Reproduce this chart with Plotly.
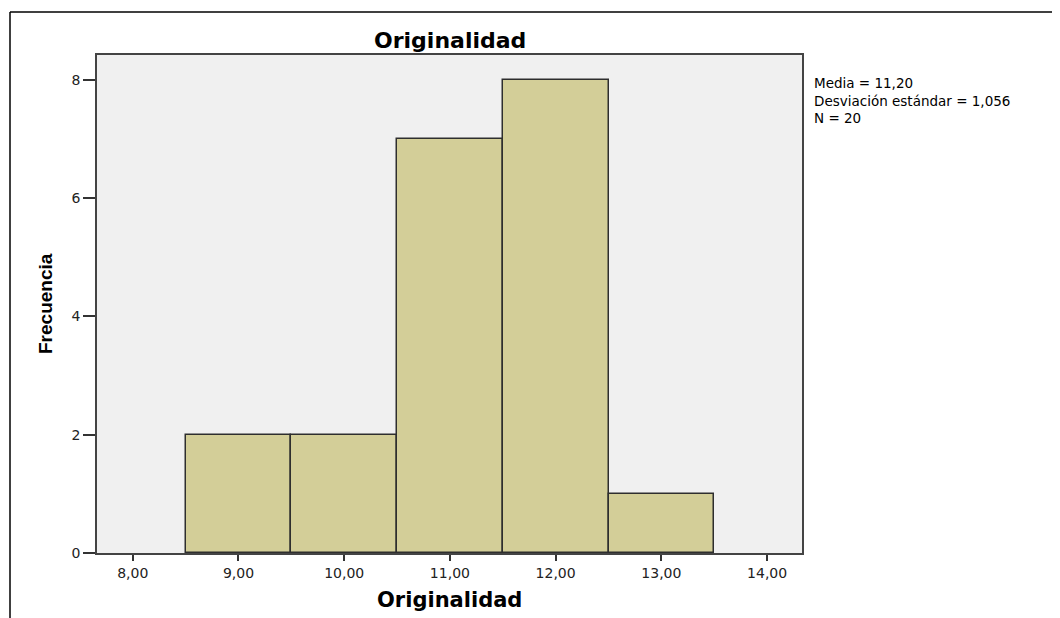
import plotly.graph_objects as go

# Data
bin_centers = [9, 10, 11, 12, 13]
frequencies = [2, 2, 7, 8, 1]
x_tick_vals = [8, 9, 10, 11, 12, 13, 14]
x_tick_text = ["8,00", "9,00", "10,00", "11,00", "12,00", "13,00", "14,00"]
y_tick_vals = [0, 2, 4, 6, 8]
stats_lines = ["Media = 11,20", "Desviación estándar = 1,056", "N = 20"]

W, H = 1060, 618
OFF = 8  # page body margin
# plot area in screen pixels
SL, SR, ST, SB = 97, 802, 55, 553
L, R, T, B = SL - OFF, SR - OFF, ST - OFF, SB - OFF
pw, ph = R - L, B - T

def px(x):
    return (x - SL) / pw

def py(y):
    return (SB - y) / ph

fig = go.Figure()
fig.add_trace(go.Bar(
    x=bin_centers, y=frequencies, width=1,
    marker=dict(color="#d3ce98", line=dict(color="#2e2e2e", width=1.5)),
    hoverinfo="x+y",
))

tickfont = dict(family="DejaVu Sans", size=14, color="#222222")
fig.update_layout(
    width=W, height=H,
    margin=dict(l=L, r=W - R, t=T, b=H - B, pad=0),
    paper_bgcolor="white", plot_bgcolor="#f0f0f0",
    showlegend=False,
    bargap=0,
    xaxis=dict(
        range=[7.662, 14.33], tickvals=x_tick_vals, ticktext=x_tick_text,
        ticks="outside", ticklen=6, tickwidth=2, tickcolor="#333333",
        showgrid=False, zeroline=False, showline=True, linecolor="#444444",
        linewidth=1.5, mirror=True, tickfont=tickfont,
    ),
    yaxis=dict(
        range=[0, 8.42], tickvals=y_tick_vals, ticktext=[str(v) for v in y_tick_vals],
        ticks="outside", ticklen=12, tickwidth=1.5, tickcolor="#333333",
        showgrid=False, zeroline=False, showline=True, linecolor="#444444",
        linewidth=1.5, mirror=True, tickfont=tickfont,
    ),
    font=dict(family="DejaVu Sans", color="#000000"),
)

# Outer frame (top and left only)
fig.add_shape(type="line", xref="paper", yref="paper",
              x0=px(10), x1=px(1070), y0=py(12), y1=py(12),
              line=dict(color="#000000", width=1.5))
fig.add_shape(type="line", xref="paper", yref="paper",
              x0=px(10), x1=px(10), y0=py(12), y1=py(630),
              line=dict(color="#000000", width=1.5))

# Titles
fig.add_annotation(text="<b>Originalidad</b>", xref="paper", yref="paper",
                   x=px(449.5), y=py(40), showarrow=False,
                   font=dict(family="DejaVu Sans", size=22, color="#000000"),
                   xanchor="center", yanchor="middle")
fig.add_annotation(text="<b>Originalidad</b>", xref="paper", yref="paper",
                   x=px(450), y=py(600), showarrow=False,
                   font=dict(family="DejaVu Sans", size=21, color="#000000"),
                   xanchor="center", yanchor="middle")
fig.add_annotation(text="<b>Frecuencia</b>", xref="paper", yref="paper",
                   x=px(45), y=py(304), showarrow=False, textangle=-90,
                   font=dict(family="Liberation Sans", size=19, color="#000000"),
                   xanchor="center", yanchor="middle")

# Stats text (single block)
fig.add_annotation(text="<br>".join(stats_lines), xref="paper", yref="paper",
                   x=px(812), y=py(100.5), showarrow=False, align="left",
                   font=dict(family="DejaVu Sans", size=13.5, color="#000000"),
                   xanchor="left", yanchor="middle")

fig.write_html("out.html")
